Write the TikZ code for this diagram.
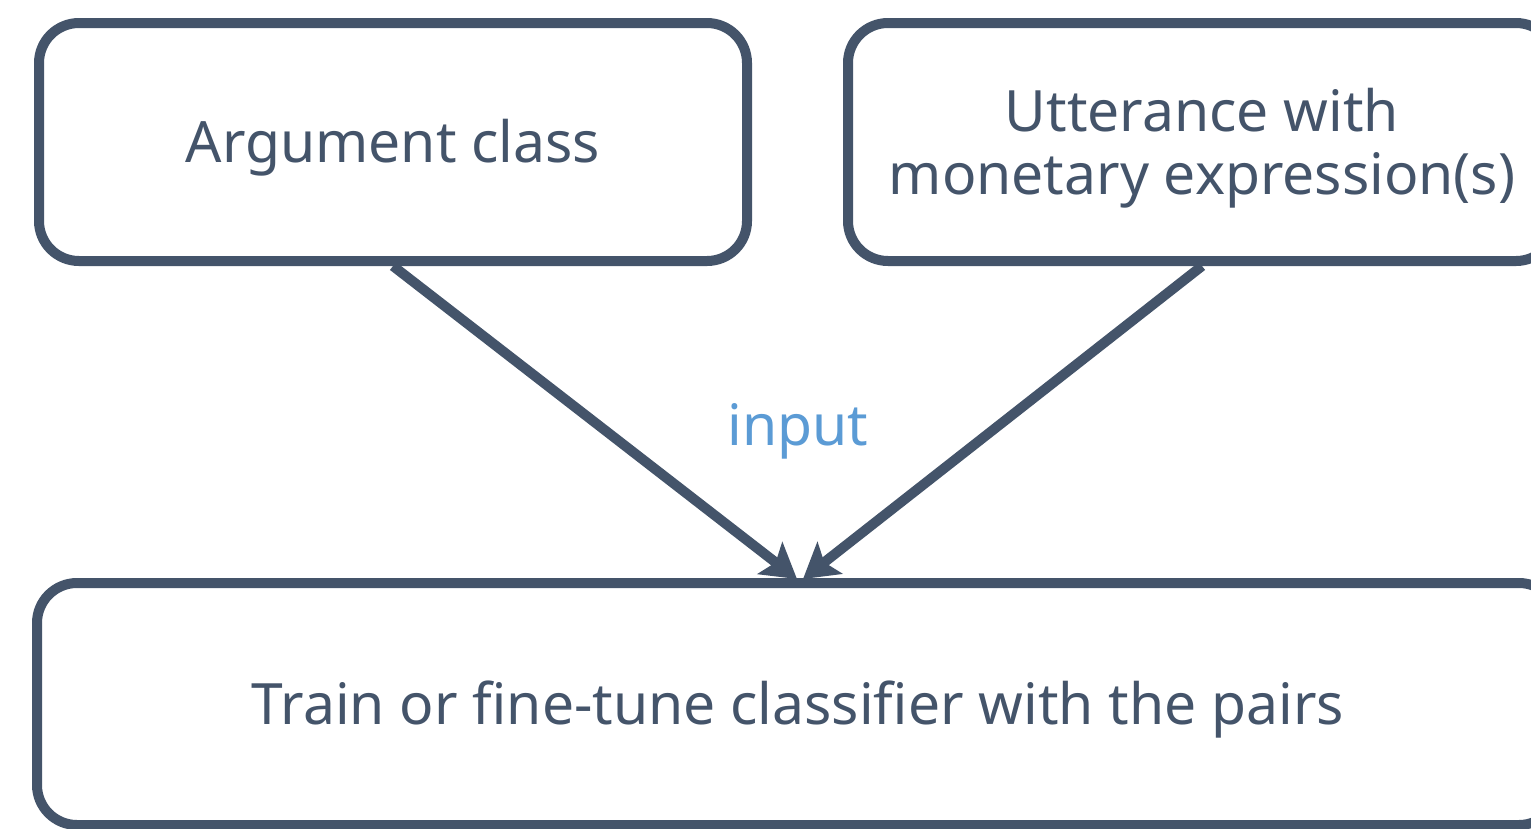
\documentclass[tikz,border=0pt]{standalone}
\usepackage{fontspec}
\setmainfont{Noto Sans}
\usetikzlibrary{arrows.meta}
\definecolor{slate}{HTML}{44546A}
\definecolor{accent}{HTML}{5B9BD5}
\begin{document}
\begin{tikzpicture}[x=1pt,y=-1pt,
  box/.style={draw=slate, line width=10pt, rounded corners=40pt, fill=white,
    text=slate, font=\fontsize{57}{63}\selectfont, align=center, inner sep=0pt},
  lbl/.style={yshift=-6pt},
  conn/.style={draw=slate, line width=10pt, -{Stealth[length=34pt,width=40pt,inset=7pt]}}]
\useasboundingbox (0,0) rectangle (1531,828);
\clip (0,0) rectangle (1531,828);
\fill[white] (0,0) rectangle (1531,828);
\node[box, minimum width=708pt, minimum height=238pt] (arg) at (393,142) {};
\node[box, minimum width=708pt, minimum height=238pt] (utt) at (1202,142) {};
\node[box, minimum width=1522pt, minimum height=242pt] (train) at (798,704) {};
\node[text=slate, font=\fontsize{57}{63}\selectfont, lbl] (argt) at (arg) {Argument class};
\node[text=slate, font=\fontsize{57}{63}\selectfont, align=center, lbl] (uttt) at (utt) {Utterance with\\monetary expression(s)};
\node[text=slate, font=\fontsize{57}{63}\selectfont, lbl] (traint) at (train) {Train or fine-tune classifier with the pairs};
\coordinate (t1) at (797,579);
\coordinate (t2) at (803,579);
\draw[conn] (arg.south) -- (t1);
\draw[conn] (utt.south) -- (t2);
\node[text=accent, font=\fontsize{57}{63}\selectfont, lbl] (inp) at (798,425) {input};
\end{tikzpicture}
\end{document}
